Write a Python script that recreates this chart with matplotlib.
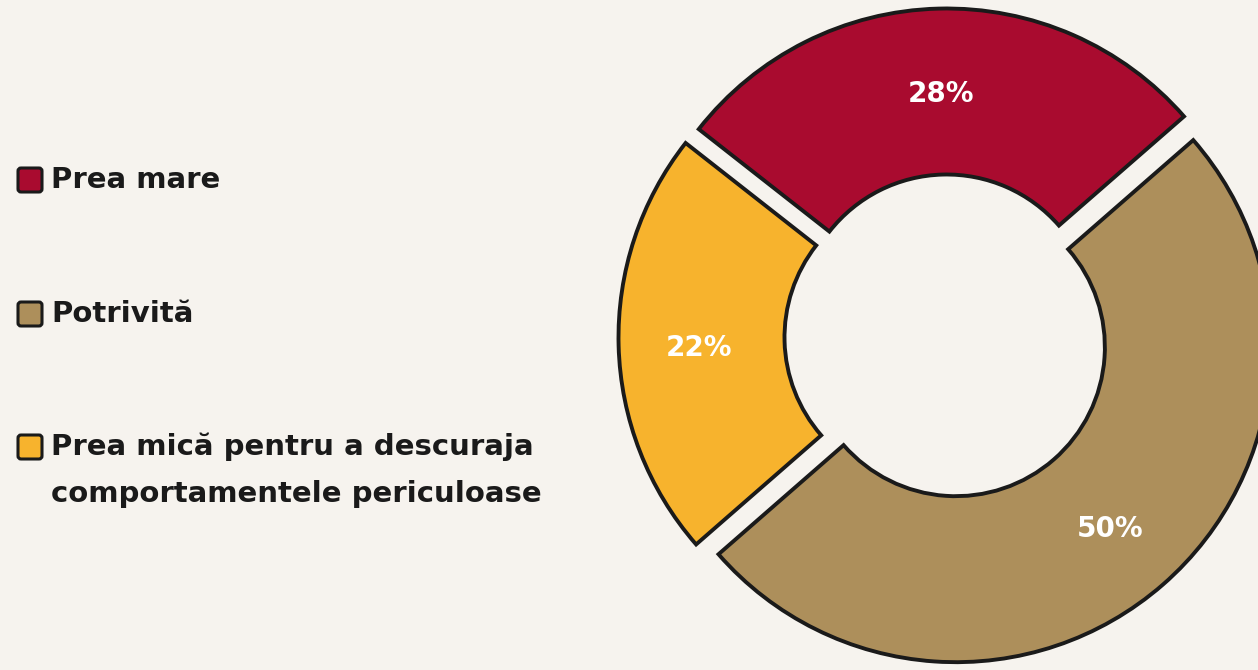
import matplotlib
matplotlib.use("Agg")
import matplotlib.pyplot as plt
from matplotlib.patches import FancyBboxPatch

# shares of answers, clockwise from the top
labels = ["Prea mare", "Potrivită", "Prea mică pentru a descuraja\ncomportamentele periculoase"]
values = [28, 50, 22]
colors = ["#A90B2F", "#AD8F5B", "#F7B32D"]
legend_order = [0, 1, 2]

BG = "#F6F3EE"
INK = "#1A1A1A"
W, H = 1258, 670

fig = plt.figure(figsize=(W / 100, H / 100), dpi=100, facecolor=BG)
ax = fig.add_axes([0, 0, 1, 1])
ax.set_facecolor(BG)

# work in pixel units (y flipped by hand so the pie keeps its orientation)
cx, cy = 947, H - 337
R, ring = 315, 166
wedges, _, pct = ax.pie(
    values, colors=colors, startangle=141.9, counterclock=False,
    explode=[13.5] * len(values), radius=R, center=(cx, cy),
    wedgeprops=dict(width=ring, edgecolor=INK, linewidth=2.8),
    autopct=lambda p: f"{p:.0f}%", pctdistance=0.745,
    textprops=dict(color="white", fontsize=20, fontweight="bold", family="DejaVu Sans"),
)
# digits have no descenders, so nudge them down to look centred
for t in pct:
    x, y = t.get_position()
    t.set_position((x, y - 5))

ys = [180, 314, 447]
for i, y in zip(legend_order, ys):
    ax.add_patch(FancyBboxPatch((18, H - y - 12), 24, 24,
                                boxstyle="round,pad=0,rounding_size=3",
                                facecolor=colors[i], edgecolor=INK, linewidth=2.2))
    for k, line in enumerate(labels[i].split("\n")):
        ax.text(51, H - y - k * 47, line, ha="left", va="center", color=INK,
                fontsize=21, fontweight="bold", family="DejaVu Sans")

ax.set_xlim(0, W)
ax.set_ylim(0, H)
ax.set_aspect("equal")
ax.axis("off")
fig.savefig("out.png", dpi=100, facecolor=BG)
